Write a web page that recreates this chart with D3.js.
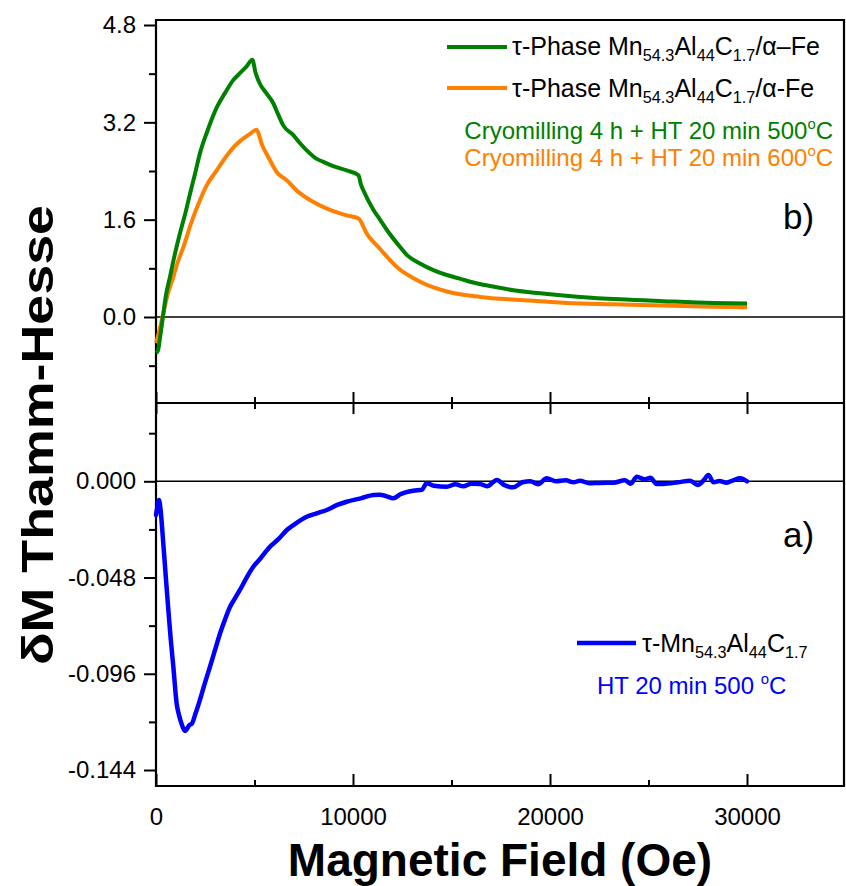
<!DOCTYPE html>
<html><head><meta charset="utf-8">
<script src="https://cdn.jsdelivr.net/npm/d3@7"></script>
<style>
html,body{margin:0;padding:0;background:#fff;}
svg text{font-family:"Liberation Sans",Arial,sans-serif;}
</style></head>
<body><svg id="c" width="846" height="886"></svg>
<script>
// ---- data ----
const greenField = [0,100,200,350,500,710,900,1220,1500,1730,2000,2230,2600,3090,3500,3910,4300,4600,4890,5050,5280,5600,5960,6200,6460,6970,7300,7650,8160,8500,9000,9680,10280,10400,10530,11040,11370,11720,12390,12730,13400,14080,14760,15430,16200,16960,18140,19490,21520,23550,25750,28290,30000];
const greenValue = [-0.59,-0.55,-0.35,0.0,0.35,0.66,0.95,1.38,1.72,2.03,2.38,2.69,3.05,3.45,3.68,3.89,4.02,4.12,4.23,4.02,3.83,3.68,3.51,3.33,3.15,2.99,2.86,2.74,2.60,2.55,2.48,2.41,2.33,2.18,2.08,1.76,1.60,1.43,1.15,1.02,0.88,0.77,0.69,0.63,0.56,0.51,0.44,0.39,0.33,0.29,0.26,0.23,0.22];
const orangeField = [0,150,370,600,880,1100,1390,1800,2230,2600,3080,3500,3930,4300,4770,5110,5200,5360,5700,6130,6630,7140,7990,8830,9680,10280,10700,11370,12300,13400,14760,16450,18480,20850,23220,25750,28290,30000];
const orangeValue = [-0.43,-0.25,0.06,0.38,0.66,0.90,1.15,1.56,1.92,2.18,2.41,2.61,2.79,2.90,3.01,3.08,3.02,2.85,2.63,2.38,2.25,2.08,1.89,1.76,1.67,1.62,1.37,1.12,0.80,0.58,0.42,0.33,0.28,0.23,0.21,0.19,0.17,0.16];
const blueField = [0,80,150,230,370,500,625,750,880,1050,1180,1300,1420,1500,1600,1700,1810,2000,2230,2500,2740,3000,3250,3500,3760,4000,4260,4600,4940,5300,5790,6200,6640,7100,7650,8150,8670,9200,9680,10400,11040,11370,11700,12050,12400,13060,13500,13740,14100,14760,15200,15600,16000,16450,16800,17300,17700,18140,18600,19000,19400,19830,20300,20800,21200,21520,22000,22500,23220,23800,24100,24410,24800,25100,25400,25750,26500,27110,27500,27800,28040,28300,28600,28970,29300,29650,30000];
const blueValue = [-0.0168,-0.012,-0.0093,-0.014,-0.031,-0.048,-0.064,-0.079,-0.0925,-0.111,-0.117,-0.121,-0.1240,-0.1245,-0.1230,-0.1215,-0.1210,-0.1160,-0.109,-0.100,-0.0925,-0.0840,-0.0759,-0.0690,-0.0626,-0.0585,-0.0542,-0.0480,-0.0426,-0.0385,-0.0326,-0.0290,-0.0243,-0.0210,-0.0177,-0.0160,-0.0143,-0.0118,-0.0102,-0.0085,-0.0068,-0.0067,-0.0075,-0.0085,-0.0065,-0.0047,-0.0042,-0.0010,-0.0022,-0.0027,-0.0015,-0.0025,-0.0012,-0.0013,-0.0025,0.0007,-0.0020,-0.0030,-0.0005,0.0000,-0.0015,0.0015,0.0000,0.0005,-0.0005,0.0003,-0.0010,-0.0008,-0.0007,0.0005,-0.0012,0.0023,0.0010,0.0018,-0.0013,-0.0013,-0.0005,0.0003,-0.0018,0.0005,0.0032,-0.0005,0.0002,-0.0007,0.0005,0.0015,0.0000];
const xTicks = [0,10000,20000,30000];
const xMinorTicks = [5000,15000,25000];
const topTicks = [0.0,1.6,3.2,4.8];
const topMinorTicks = [-0.8,0.8,2.4,4.0];
const botTicks = [0.000,-0.048,-0.096,-0.144];
const botMinorTicks = [0.024,-0.024,-0.072,-0.120];

// ---- layout ----
const svg = d3.select("#c");
const L=156, R=844, T=20, MID=403, B=786;
const x = d3.scaleLinear().domain([0,30000]).range([L,747]);
x.domain([0, x.invert(R)]).range([L,R]);
const yT = d3.scaleLinear().domain([0,4.8]).range([317,25]);
yT.domain([yT.invert(MID), yT.invert(T)]).range([MID,T]);
const yB = d3.scaleLinear().domain([0,-0.144]).range([481.3,770]);
yB.domain([yB.invert(B), yB.invert(MID)]).range([B,MID]);

const FS = 24;
function styleAxis(g){ g.select(".domain").remove(); g.selectAll("line").attr("stroke","#000").attr("stroke-width",2);
  g.selectAll("text").attr("font-size",FS).attr("fill","#000").attr("font-family","Liberation Sans, Arial, sans-serif"); }

// zero lines
svg.append("line").attr("x1",L).attr("x2",R).attr("y1",yT(0)).attr("y2",yT(0)).attr("stroke","#000").attr("stroke-width",1.6);
svg.append("line").attr("x1",L).attr("x2",R).attr("y1",yB(0)).attr("y2",yB(0)).attr("stroke","#000").attr("stroke-width",1.6);

// y axes
svg.append("g").attr("transform",`translate(${L},0)`).call(d3.axisLeft(yT).tickValues(topTicks).tickSize(12).tickPadding(8).tickFormat(d=>d.toFixed(1))).call(styleAxis);
svg.append("g").attr("transform",`translate(${L},0)`).call(d3.axisLeft(yT).tickValues(topMinorTicks).tickSize(7).tickFormat("")).call(styleAxis);
svg.append("g").attr("transform",`translate(${L},0)`).call(d3.axisLeft(yB).tickValues(botTicks).tickSize(12).tickPadding(8).tickFormat(d=>d.toFixed(3))).call(styleAxis);
svg.append("g").attr("transform",`translate(${L},0)`).call(d3.axisLeft(yB).tickValues(botMinorTicks).tickSize(7).tickFormat("")).call(styleAxis);

// x axes: bottom (inward), separator (both directions)
svg.append("g").attr("transform",`translate(0,${B})`).call(d3.axisBottom(x).tickValues(xTicks).tickSizeInner(-12).tickSizeOuter(0).tickPadding(22).tickFormat(d3.format("d"))).call(styleAxis);
svg.append("g").attr("transform",`translate(0,${B})`).call(d3.axisBottom(x).tickValues(xMinorTicks).tickSizeInner(-6).tickSizeOuter(0).tickFormat("")).call(styleAxis);
[[11],[6]].forEach((s,i)=>{
  const vals = i===0? xTicks : xMinorTicks;
  svg.append("g").attr("transform",`translate(0,${MID})`).call(d3.axisBottom(x).tickValues(vals).tickSizeInner(-s[0]).tickSizeOuter(0).tickFormat("")).call(styleAxis);
  svg.append("g").attr("transform",`translate(0,${MID})`).call(d3.axisTop(x).tickValues(vals).tickSizeInner(-s[0]).tickSizeOuter(0).tickFormat("")).call(styleAxis);
});

// frame
const frame = svg.append("g").attr("stroke","#000").attr("stroke-width",2.2).attr("fill","none");
frame.append("path").attr("d",`M${L},${T}H${R}V${B}H${L}Z`);
frame.append("line").attr("x1",L).attr("x2",R).attr("y1",MID).attr("y2",MID);

// curves
const lineT = d3.line().curve(d3.curveMonotoneX).x(d=>x(d[0])).y(d=>yT(d[1]));
const lineB = d3.line().curve(d3.curveMonotoneX).x(d=>x(d[0])).y(d=>yB(d[1]));
svg.append("path").datum(orangeField.map((f,i)=>[f,orangeValue[i]])).attr("d",lineT).attr("fill","none").attr("stroke","#ff8000").attr("stroke-width",4).attr("stroke-linejoin","round");
svg.append("path").datum(greenField.map((f,i)=>[f,greenValue[i]])).attr("d",lineT).attr("fill","none").attr("stroke","#008000").attr("stroke-width",4).attr("stroke-linejoin","round");
svg.append("path").datum(blueField.map((f,i)=>[f,blueValue[i]])).attr("d",lineB).attr("fill","none").attr("stroke","#0000ff").attr("stroke-width",4.5).attr("stroke-linejoin","round").attr("stroke-linecap","round");

// rich text helper: parts with sub/sup, no empty tspans
function richText(g, xx, yy, parts, opts){
  const fs = opts.fs || FS;
  const t = g.append("text").attr("x",xx).attr("y",yy).attr("font-size",fs).attr("fill",opts.fill||"#000");
  if(opts.anchor) t.attr("text-anchor",opts.anchor);
  let pending = 0;
  parts.forEach(p=>{
    if(p.sub){ t.append("tspan").attr("font-size",fs*0.65).attr("dy",pending+6).text(p.sub); pending=-6; }
    else if(p.sup){ t.append("tspan").attr("font-size",fs*0.62).attr("dy",pending-10).text(p.sup); pending=10; }
    else { t.append("tspan").attr("dy",pending).text(p.t); pending=0; }
  });
  return t;
}
const lg = svg.append("g");
lg.append("line").attr("x1",447).attr("x2",507).attr("y1",47).attr("y2",47).attr("stroke","#008000").attr("stroke-width",4);
richText(lg,512,55,[{t:"\u03C4-Phase Mn"},{sub:"54.3"},{t:"Al"},{sub:"44"},{t:"C"},{sub:"1.7"},{t:"/\u03B1\u2013Fe"}],{fs:25});
lg.append("line").attr("x1",447).attr("x2",507).attr("y1",88).attr("y2",88).attr("stroke","#ff8000").attr("stroke-width",4);
richText(lg,512,97,[{t:"\u03C4-Phase Mn"},{sub:"54.3"},{t:"Al"},{sub:"44"},{t:"C"},{sub:"1.7"},{t:"/\u03B1-Fe"}],{fs:25});
richText(lg,833,139,[{t:"Cryomilling 4 h + HT 20 min 500"},{sup:"o"},{t:"C"}],{fill:"#008000",anchor:"end",fs:24});
richText(lg,833,166,[{t:"Cryomilling 4 h + HT 20 min 600"},{sup:"o"},{t:"C"}],{fill:"#ff8000",anchor:"end",fs:24});

lg.append("line").attr("x1",577).attr("x2",636).attr("y1",643).attr("y2",643).attr("stroke","#0000ff").attr("stroke-width",4.5);
richText(lg,642,652,[{t:"\u03C4-Mn"},{sub:"54.3"},{t:"Al"},{sub:"44"},{t:"C"},{sub:"1.7"}],{fs:25});
richText(lg,597,694,[{t:"HT 20 min 500 "},{sup:"o"},{t:"C"}],{fill:"#0000ff",fs:24});

svg.append("text").attr("x",783).attr("y",229).attr("font-size",35).text("b)");
svg.append("text").attr("x",783).attr("y",547).attr("font-size",35).text("a)");

// axis titles
svg.append("text").attr("transform","translate(53,435) rotate(-90)").attr("text-anchor","middle").attr("font-size",44).attr("font-weight","bold")
  .attr("textLength",460).attr("lengthAdjust","spacingAndGlyphs").text("\u03B4M Thamm-Hesse");
svg.append("text").attr("x",500).attr("y",876).attr("text-anchor","middle").attr("font-size",46).attr("font-weight","bold").text("Magnetic Field (Oe)");
</script></body></html>
